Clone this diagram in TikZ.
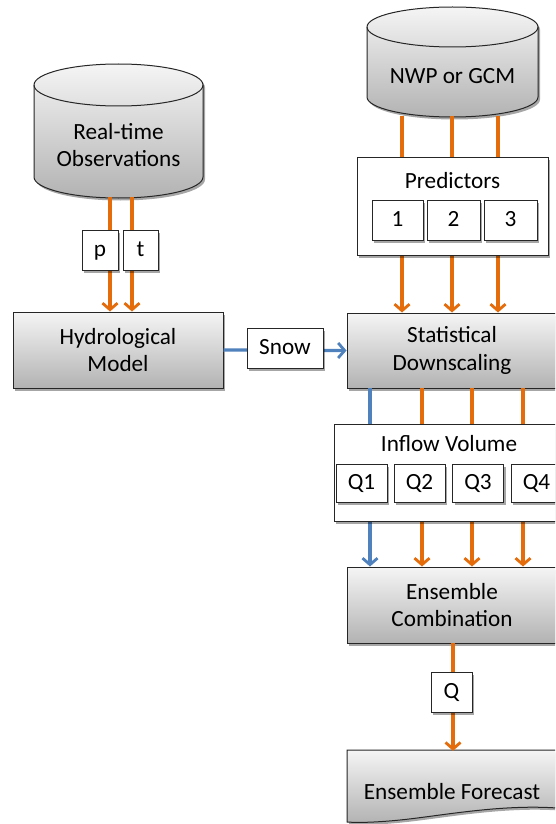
\documentclass[tikz,border=0pt]{standalone}
\usepackage{fontspec}
\setmainfont{Carlito}
\usetikzlibrary{arrows.meta,shadows}
\definecolor{orng}{RGB}{228,108,10}
\definecolor{blu}{RGB}{79,129,189}
\tikzset{
  shd/.style={drop shadow={shadow xshift=2pt,shadow yshift=-2.5pt,opacity=0.35,fill=black}},
  grayfill/.style={top color=black!4, bottom color=black!30, draw=black!85, line width=1pt},
  graybox/.style={grayfill, shd, align=center, inner sep=0pt, font=\fontsize{23.2}{27.5}\selectfont},
  whitebox/.style={draw=black!85, line width=1pt, fill=white, shd, inner sep=0pt, text height=15pt, text depth=3pt, font=\fontsize{23.2}{27}\selectfont},
  txt/.style={inner sep=0pt, align=center, font=\fontsize{23.2}{27}\selectfont},
  oarr/.style={draw=orng, line width=3.2pt, -{Straight Barb[length=6.5pt,width=15pt,line width=2.8pt]}},
  barr/.style={draw=blu, line width=3.2pt, -{Straight Barb[length=6.5pt,width=15pt,line width=2.8pt]}},
}
\newcommand\mycyl[5]{%
  \pgfmathsetmacro\rx{(#2-#1)/2}%
  \path[grayfill, shd] (#1,-#3-#5) -- (#1,-#4+#5)
    arc[start angle=180,end angle=360,x radius=\rx,y radius=#5] -- (#2,-#3-#5)
    arc[start angle=0,end angle=180,x radius=\rx,y radius=#5] -- cycle;
  \draw[black!85, line width=1pt] (#1,-#3-#5) arc[start angle=180,end angle=360,x radius=\rx,y radius=#5];
}
\begin{document}
\begin{tikzpicture}[x=1pt,y=1pt]
\useasboundingbox (0,0) rectangle (555,-824);
\clip (0,0) rectangle (555,-824);
\fill[white] (0,0) rectangle (555,-824);

% cylinders
\mycyl{34}{203}{64}{198}{21}
\node[draw=none, minimum width=169pt, minimum height=134pt, inner sep=0pt] (obs) at (118.5,-131) {};
\node[txt] (obstxt) at (118.5,-145) {Real-time\\Observations};

\mycyl{367}{538}{7}{117}{20}
\node[draw=none, minimum width=171pt, minimum height=110pt, inner sep=0pt] (nwp) at (452.5,-62) {};
\node[txt] (nwptxt) at (452.5,-76) {NWP or GCM};

% main boxes
\node[graybox, minimum width=210pt, minimum height=76pt] (hydro) at (118,-350) {Hydrological\\Model};
\node[graybox, minimum width=210pt, minimum height=75pt] (stat) at (452,-350.5) {Statistical\\Downscaling};
\node[graybox, minimum width=210pt, minimum height=76pt] (comb) at (452,-605) {Ensemble\\Combination};

% forecast document shape
\path[grayfill, shd] (347,-750) -- (557,-750) -- (557,-808)
  .. controls (500,-804) and (440,-816) .. (400,-820)
  .. controls (380,-822) and (360,-823) .. (347,-822) -- cycle;
\node[draw=none, minimum width=210pt, minimum height=70pt, inner sep=0pt] (fcst) at (452,-786) {};
\node[txt] (fcsttxt) at (452,-792) {Ensemble Forecast};

% connectors obs -> hydro
\coordinate (o1) at (110,-197);
\coordinate (o2) at (132,-197);
\draw[oarr] (o1) -- (o1 |- hydro.north);
\draw[oarr] (o2) -- (o2 |- hydro.north);

% nwp -> stat
\foreach \xx [count=\i] in {402,452,498}{
  \coordinate (n\i) at (\xx,-116);
  \draw[oarr] (n\i) -- (n\i |- stat.north);
}

% snow
\draw[barr] (hydro.east) -- (stat.west);

% stat -> comb
\coordinate (s1) at (370,-388);
\draw[barr] (s1) -- (s1 |- comb.north);
\foreach \xx [count=\i from 2] in {422,472,523}{
  \coordinate (s\i) at (\xx,-388);
  \draw[oarr] (s\i) -- (s\i |- comb.north);
}

% comb -> forecast
\coordinate (c1) at (453,-643);
\draw[oarr] (c1) -- (c1 |- fcst.north);

% label boxes
\node[whitebox, minimum width=36pt, minimum height=40pt] (p) at (100,-250) {p};
\node[whitebox, minimum width=35pt, minimum height=40pt] (t) at (140.5,-250) {t};
\node[whitebox, minimum width=76pt, minimum height=40pt] (snow) at (285,-348) {Snow};

\node[whitebox, minimum width=191pt, minimum height=98pt] (pred) at (452.5,-206) {};
\node[txt] (predtxt) at (452.5,-181) {Predictors};
\node[whitebox, minimum width=51pt, minimum height=40pt] (b1) at (397.5,-220) {1};
\node[whitebox, minimum width=53pt, minimum height=40pt] (b2) at (453.5,-220) {2};
\node[whitebox, minimum width=53pt, minimum height=40pt] (b3) at (510.5,-220) {3};

\node[whitebox, minimum width=230pt, minimum height=97pt] (inflow) at (449,-472.5) {};
\node[txt] (inflowtxt) at (449,-444) {Inflow Volume};
\node[whitebox, minimum width=51pt, minimum height=38pt] (q1) at (361.5,-483) {Q1};
\node[whitebox, minimum width=51pt, minimum height=38pt] (q2) at (419.5,-483) {Q2};
\node[whitebox, minimum width=51pt, minimum height=38pt] (q3) at (478,-483) {Q3};
\node[whitebox, minimum width=51pt, minimum height=38pt] (q4) at (536.5,-483) {Q4};

\node[whitebox, minimum width=41pt, minimum height=40pt] (q) at (451.5,-692) {Q};
\end{tikzpicture}
\end{document}
